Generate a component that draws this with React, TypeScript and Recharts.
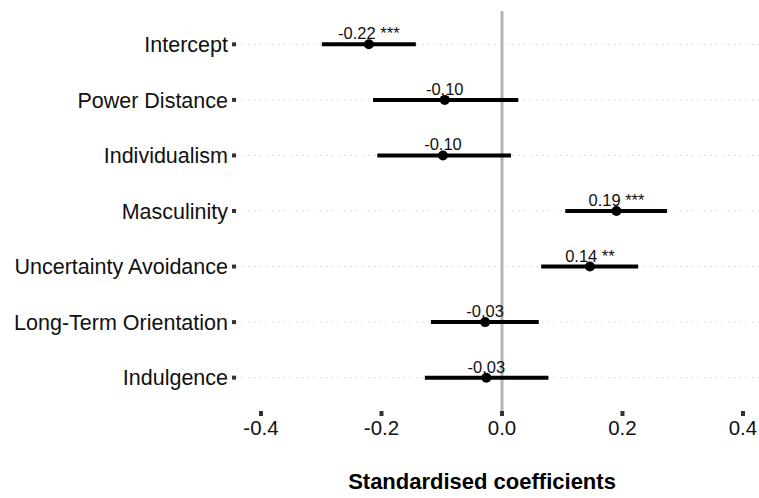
import {
    ComposedChart,
    Scatter,
    XAxis,
    YAxis,
    ReferenceLine,
    LabelList,
} from "recharts";

const terms = [
    "Intercept",
    "Power Distance",
    "Individualism",
    "Masculinity",
    "Uncertainty Avoidance",
    "Long-Term Orientation",
    "Indulgence",
];
const estimates = [-0.221, -0.095, -0.098, 0.19, 0.146, -0.028, -0.026];
const lower = [-0.299, -0.214, -0.207, 0.105, 0.065, -0.118, -0.128];
const upper = [-0.143, 0.027, 0.015, 0.274, 0.226, 0.061, 0.077];
const labels = ["-0.22 ***", "-0.10", "-0.10", "0.19 ***", "0.14 **", "-0.03", "-0.03"];
const xTicks = [-0.4, -0.2, 0, 0.2, 0.4];

const rows = terms.map((term, i) => ({
    term,
    pos: i + 1,
    est: estimates[i],
    lo: lower[i],
    hi: upper[i],
    label: labels[i],
}));

const font = "'Liberation Sans', Arial, Helvetica, sans-serif";

const PointLabel = (props: any) => {
    const { x, y, width, height, value } = props;
    const cx = x + (width || 0) / 2;
    const cy = y + (height || 0) / 2;
    return (
        <text
            x={cx}
            y={cy - 5}
            textAnchor="middle"
            fontSize={16.5}
            fontFamily={font}
            fill="#111"
        >
            {value}
        </text>
    );
};

export default function App() {
    return (
        <div style={{ position: "absolute", left: 0, top: 0, width: 759, height: 498, background: "#fff" }}>
            <ComposedChart
                width={759}
                height={498}
                data={rows}
                margin={{ top: 11, right: 0, bottom: 0, left: 0 }}
            >
                <XAxis
                    type="number"
                    dataKey="est"
                    domain={[-0.4415, 0.4266]}
                    allowDataOverflow
                    ticks={xTicks}
                    tickFormatter={(v: number) => v.toFixed(1)}
                    axisLine={false}
                    tickLine={{ stroke: "#333", strokeWidth: 4 }}
                    tickSize={5}
                    tickMargin={4}
                    height={87}
                    tick={{ fontSize: 20.5, fontFamily: font, fill: "#111" }}
                />
                <YAxis
                    type="number"
                    dataKey="pos"
                    domain={[0.4, 7.6]}
                    allowDataOverflow
                    reversed
                    ticks={rows.map((r) => r.pos)}
                    tickFormatter={(v: number) => terms[v - 1]}
                    axisLine={false}
                    tickLine={{ stroke: "#333", strokeWidth: 4 }}
                    tickSize={4}
                    tickMargin={4}
                    width={236}
                    interval={0}
                    tick={{ fontSize: 21.5, fontFamily: font, fill: "#111" }}
                />
                {/* dotted row guides */}
                {rows.map((r) => (
                    <ReferenceLine
                        key={"g" + r.term}
                        y={r.pos}
                        stroke="#cfcfcf"
                        strokeDasharray="1.5 4.5"
                    />
                ))}
                <ReferenceLine x={0} stroke="#b3b3b3" strokeWidth={3} />
                {rows.map((r) => (
                    <ReferenceLine
                        key={r.term}
                        segment={[
                            { x: r.lo, y: r.pos },
                            { x: r.hi, y: r.pos },
                        ]}
                        stroke="#000"
                        strokeWidth={4}
                        ifOverflow="visible"
                    />
                ))}
                <Scatter
                    dataKey="pos"
                    fill="#000"
                    isAnimationActive={false}
                    shape={(p: any) => <circle cx={p.cx} cy={p.cy} r={5} fill="#000" />}
                >
                    <LabelList dataKey="label" content={PointLabel} />
                </Scatter>
            </ComposedChart>
            <div
                style={{
                    position: "absolute",
                    left: 482,
                    top: 471,
                    transform: "translateX(-50%)",
                    fontFamily: font,
                    fontWeight: "bold",
                    fontSize: 22,
                    lineHeight: 1,
                    whiteSpace: "nowrap",
                    color: "#000",
                }}
            >
                Standardised coefficients
            </div>
        </div>
    );
}
